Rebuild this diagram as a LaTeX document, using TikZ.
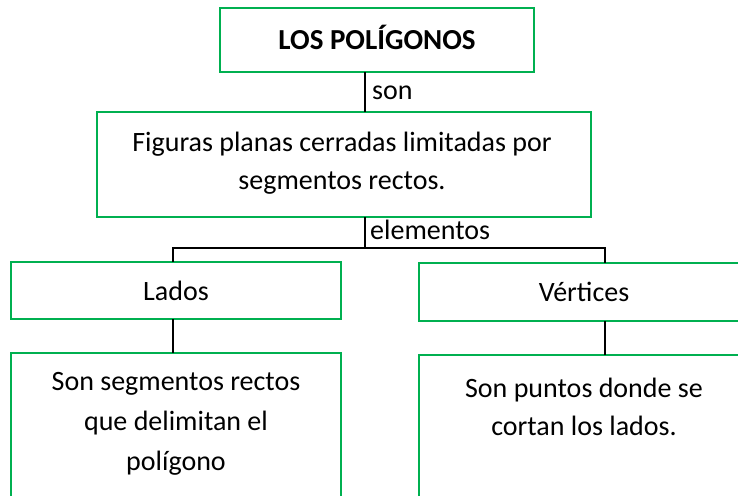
\documentclass[tikz,border=0pt]{standalone}
\usepackage{fontspec}
\setmainfont{Carlito}
\definecolor{wgreen}{HTML}{00B050}
\begin{document}
\begin{tikzpicture}[x=1pt,y=-1pt,
  box/.style={draw=wgreen,line width=1.6pt,rectangle,inner sep=0pt,outer sep=0pt,fill=white},
  conn/.style={draw=black,line width=1.5pt},
  txt/.style={font=\fontsize{28}{38}\selectfont,align=center,inner sep=0pt},
  lbl/.style={font=\fontsize{28}{38}\selectfont,inner sep=0pt,anchor=base west}]
\useasboundingbox (0,0) rectangle (738,495);
\clip (0,0) rectangle (738,495);
\fill[white] (0,0) rectangle (738,495);
% boxes
\node[box,minimum width=314pt,minimum height=64pt,text height=18pt,text depth=0pt,font=\fontsize{29}{38}\selectfont\bfseries] (top) at (377,40) {LOS POLÍGONOS};
\node[box,minimum width=494pt,minimum height=105pt] (def) at (344,164.5) {};
\node[txt] (deft) at (342,163) {Figuras planas cerradas limitadas por\\segmentos rectos.};
\node[box,minimum width=330pt,minimum height=57pt,font=\fontsize{28}{38}\selectfont] (lados) at (176,290.5) {Lados};
\node[box,minimum width=330pt,minimum height=58pt,font=\fontsize{28}{38}\selectfont] (vert) at (584,292) {Vértices};
\node[box,minimum width=330pt,minimum height=167pt] (ladosd) at (176,436.5) {};
\node[box,minimum width=330pt,minimum height=165pt] (vertd) at (584,437.5) {};
\node[txt] (ladosdt) at (176,424) {Son segmentos rectos\\[2pt]que delimitan el\\[2pt]polígono};
\node[txt] (vertdt) at (584,406.5) {Son puntos donde se\\cortan los lados.};
% connectors
\coordinate (jm) at (365,248);
\coordinate (jl) at (173,248);
\coordinate (jr) at (605,248);
\draw[conn] (top.south -| jm) -- (def.north -| jm);
\draw[conn] (def.south -| jm) -- (jm);
\draw[conn] (lados.north -| jl) -- (jl) -- (jr) -- (vert.north -| jr);
\draw[conn] (lados.south -| jl) -- (ladosd.north -| jl);
\draw[conn] (vert.south -| jr) -- (vertd.north -| jr);
% labels
\node[lbl] (son) at (372,99) {son};
\node[lbl] (elem) at (370,239) {elementos};
\end{tikzpicture}
\end{document}
